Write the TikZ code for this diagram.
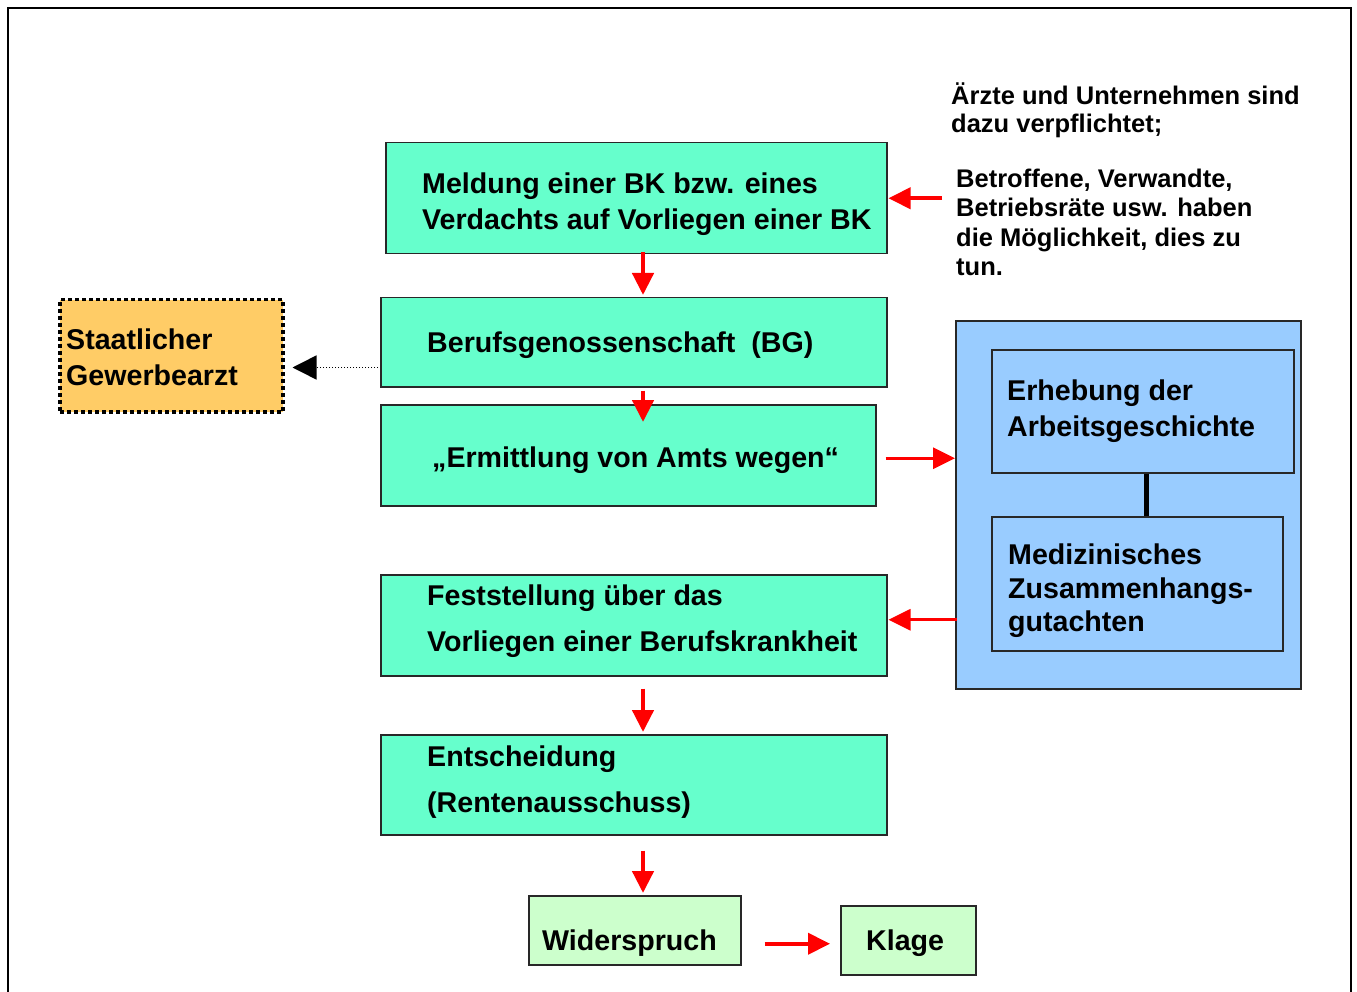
\documentclass[tikz,border=0pt]{standalone}
\usepackage{fontspec}
\setmainfont{Liberation Sans}
\usetikzlibrary{arrows.meta,calc}
\definecolor{mint}{RGB}{102, 255, 204}
\definecolor{paleg}{RGB}{204, 255, 204}
\definecolor{amber}{RGB}{255, 204, 102}
\definecolor{skyb}{RGB}{153, 204, 255}
\definecolor{boxline}{RGB}{40, 40, 40}

\begin{document}
\begin{tikzpicture}[x = 1pt, y = -1pt,
	box/.style = {draw = boxline, line width = 1.5pt, anchor = north west, inner sep = 0pt},
	txt/.style = {anchor = west, align = left, inner sep = 0pt, font = \bfseries\fontsize{28.6}{36}\selectfont},
	side/.style = {anchor = west, align = left, inner sep = 0pt, font = \bfseries\fontsize{25.5}{29.5}\selectfont},
	redarrow/.style = {draw = red, line width = 4.5pt, -{Triangle[length = 22pt, width = 21pt]}},
	thinred/.style = {redarrow, line width = 2.8pt}]
	\useasboundingbox (0, 0) rectangle (1357, 992);
	\draw[line width = 2pt] (8, 992) -- (8, 8) -- (1351, 8) -- (1351, 992);

	% main column
	\node[box, fill = mint, minimum width = 501pt, minimum height = 111pt] (meldung) at (385, 142) {};
	\node[box, fill = mint, minimum width = 506pt, minimum height = 89pt] (beruf) at (380, 297) {};
	\node[box, fill = mint, minimum width = 495pt, minimum height = 101pt] (ermittlung) at (380, 404) {};
	\node[box, fill = mint, minimum width = 506pt, minimum height = 101pt] (festst) at (380, 574) {};
	\node[box, fill = mint, minimum width = 506pt, minimum height = 100pt] (entsch) at (380, 734) {};
	\node[box, fill = paleg, minimum width = 212pt, minimum height = 69pt] (wider) at (528, 895) {};
	\node[box, fill = paleg, minimum width = 135pt, minimum height = 69pt] (klage) at (840, 905) {};
	\node[box, fill = amber, draw = black, line width = 3.5pt, dash pattern = on 4pt off 3pt, minimum width = 223pt, minimum height = 112pt] (staat) at (58, 298) {};
	\node[box, fill = skyb, minimum width = 345pt, minimum height = 368pt] (blau) at (955, 320) {};
	\node[box, fill = skyb, minimum width = 302pt, minimum height = 123pt] (erheb) at (991, 349) {};
	\node[box, fill = skyb, minimum width = 291pt, minimum height = 134pt] (medizin) at (991, 516) {};

	\node[txt] (meldungtxt) at (422, 204) {Meldung einer BK bzw. eines\\Verdachts auf Vorliegen einer BK};
	\node[txt] (beruftxt) at (427, 345) {Berufsgenossenschaft\ \ (BG)};
	\node[txt] (ermittlungtxt) at (432, 460) {„Ermittlung von Amts wegen“};
	\node[txt, font = \bfseries\fontsize{28.6}{46}\selectfont] (fesststxt) at (427, 621.5) {Feststellung über das\\Vorliegen einer Berufskrankheit};
	\node[txt, font = \bfseries\fontsize{28.6}{46}\selectfont] (entschtxt) at (427, 782.5) {Entscheidung\\(Rentenausschuss)};
	\node[txt] (widertxt) at (542, 943.5) {Widerspruch};
	\node[txt] (klagetxt) at (866, 943.5) {Klage};
	\node[txt] (staattxt) at (66, 357.5) {Staatlicher\\Gewerbearzt};
	\node[txt] (erhebtxt) at (1007, 411.5) {Erhebung der\\Arbeitsgeschichte};
	\node[txt, font = \bfseries\fontsize{28.6}{33.5}\selectfont] (mediztxt) at (1008, 591) {Medizinisches\\Zusammenhangs-\\gutachten};
	\node[side, font = \bfseries\fontsize{25.5}{28}\selectfont] (pflichttxt) at (951, 110) {Ärzte und Unternehmen sind\\dazu verpflichtet;};
	\node[side] (moeglichtxt) at (956, 222.5) {Betroffene, Verwandte,\\Betriebsräte usw. haben\\die Möglichkeit, dies zu\\tun.};

	% arrows
	\coordinate (ax) at (643, 0);
	\draw[redarrow, line width = 4pt, shorten <= 14pt, shorten >= 1pt] (meldung.east -| moeglichtxt.west) -- (meldung.east);
	\draw[redarrow, shorten <= -2pt, shorten >= 2pt] (meldung.south -| ax) -- (beruf.north -| ax);
	\draw[redarrow, shorten <= 3pt, shorten >= -18pt] (beruf.south -| ax) -- (ermittlung.north -| ax);
	\draw[thinred] ($(ermittlung.east) + (9, 3)$) -- ($(ermittlung.east -| blau.west) + (0, 3)$);
	\draw[thinred] ($(festst.east -| blau.west) + (2, -5.5)$) -- ($(festst.east) + (1, -5.5)$);
	\draw[redarrow, shorten <= 12pt, shorten >= 2pt] (festst.south -| ax) -- (entsch.north -| ax);
	\draw[redarrow, shorten <= 15pt, shorten >= 2pt] (entsch.south -| ax) -- (wider.north -| ax);
	\draw[redarrow, line width = 4pt, shorten <= 23pt, shorten >= 10pt] ($(wider.east |- klage.west) + (0, 3.5)$) -- ($(klage.west) + (0, 3.5)$);
	\draw[line width = 1.5pt, dash pattern = on 1.5pt off 1.5pt, -{Triangle[length = 24pt, width = 24pt]}] ($(beruf.south west) + (-2, -20)$) -- ($(staat.east |- beruf.south west) + (8, -20)$);
	\draw[line width = 5pt] ($(erheb.south) + (4, 0)$) -- ($(medizin.north -| erheb.south) + (4, 0)$);
\end{tikzpicture}
\end{document}
